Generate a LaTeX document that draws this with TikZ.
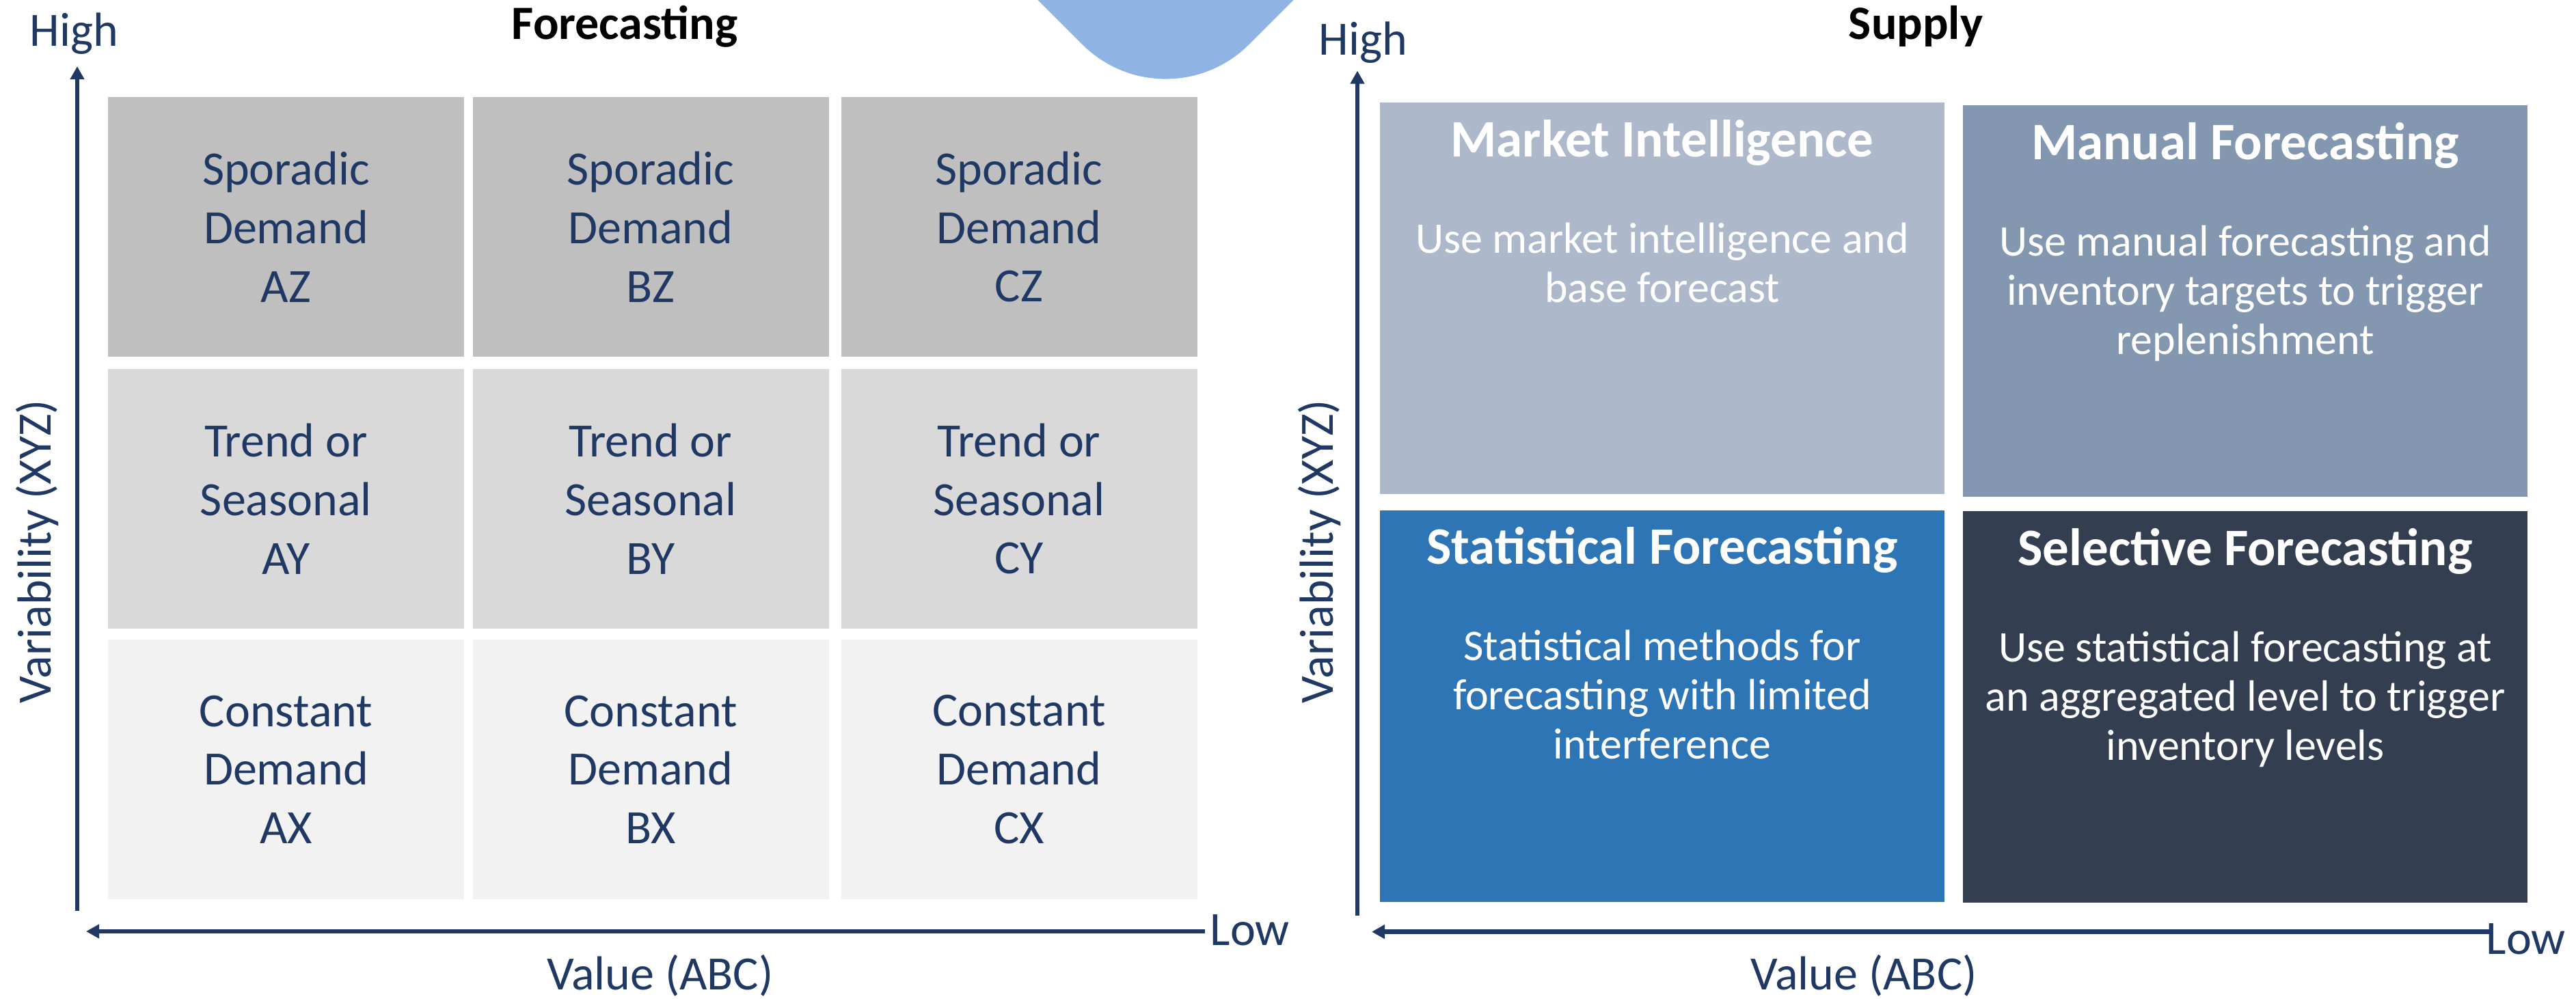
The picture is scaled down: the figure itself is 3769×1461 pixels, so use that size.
\documentclass[tikz,border=0pt]{standalone}
\usepackage{fontspec}
\setmainfont{Carlito}
\usetikzlibrary{arrows.meta,positioning}
\definecolor{navy}{HTML}{1F3864}
\definecolor{rowz}{HTML}{BFBFBF}
\definecolor{rowy}{HTML}{D9D9D9}
\definecolor{rowx}{HTML}{F2F2F2}
\definecolor{mkt}{HTML}{ADB9CA}
\definecolor{man}{HTML}{8497B0}
\definecolor{stat}{HTML}{2E75B6}
\definecolor{sel}{HTML}{333F50}
\definecolor{wedge}{HTML}{8FB4E3}

\begin{document}
\begin{tikzpicture}[x=0.25pt,y=-0.25pt,
  cell/.style={minimum width=130.25pt,minimum height=95pt,outer sep=0pt,text=navy,align=center,font=\fontsize{17.5}{21.43}\selectfont},
  quad/.style={minimum width=206.5pt,minimum height=143.25pt,outer sep=0pt},
  head/.style={text=white,font=\bfseries\fontsize{19.25}{23}\selectfont},
  body/.style={text=white,align=center,font=\fontsize{16}{18}\selectfont},
  lab/.style={text=navy,font=\fontsize{17.5}{21}\selectfont},
  ttl/.style={font=\bfseries\fontsize{17.5}{21}\selectfont},
  axis/.style={navy,line width=1.6pt,-{Triangle[length=4.8pt,width=5pt]}}]
\tikzstyle{every node}+=[inner sep=0pt]
\useasboundingbox (0,0) rectangle (3769,1461);
\fill [wedge] (1518.5,0) -- (1583.5,65) .. controls (1651,132.4) and (1760,132.4) .. (1827.5,65) -- (1892.5,0) -- cycle;
\node (az) [cell,fill=rowz] at (418.5,332) {Sporadic\\Demand\\AZ};
\node (bz) [cell,fill=rowz] at (952,332) {Sporadic\\Demand\\BZ};
\node (cz) [cell,fill=rowz] at (1491,332) {Sporadic\\Demand\\CZ};
\node (ay) [cell,fill=rowy] at (418.5,730) {Trend or\\Seasonal\\AY};
\node (by) [cell,fill=rowy] at (952,730) {Trend or\\Seasonal\\BY};
\node (cy) [cell,fill=rowy] at (1491,730) {Trend or\\Seasonal\\CY};
\node (ax) [cell,fill=rowx] at (418.5,1126) {Constant\\Demand\\AX};
\node (bx) [cell,fill=rowx] at (952,1126) {Constant\\Demand\\BX};
\node (cx) [cell,fill=rowx] at (1491,1126) {Constant\\Demand\\CX};
\node (fhigh) [lab,anchor=base west] at (43,67) {High};
\node (ftitle) [ttl,anchor=base] at (914,57) {Forecasting};
\node (flow) [lab,anchor=base west] at (1770,1383) {Low};
\node (fval) [lab,anchor=base] at (966,1448) {Value (ABC)};
\node (fvar) [lab,anchor=base,rotate=90] at (74,807) {Variability (XYZ)};
\coordinate (fy0) at (113,1333);
\coordinate (fy1) at (113,97);
\coordinate (fx0) at (1763,1363);
\coordinate (fx1) at (126,1363);
\draw [axis] (fy0) -- (fy1);
\draw [axis] (fx0) -- (fx1);
\node (mi) [quad,fill=mkt] at (2432,436.5) {};
\node (mf) [quad,fill=man] at (3285,440.5) {};
\node (sf) [quad,fill=stat] at (2432,1033) {};
\node (lf) [quad,fill=sel] at (3285,1034.5) {};
\node (mih) [head,below=19.75pt of mi.north,anchor=base] {Market Intelligence};
\node (mib) [body,below=73pt of mi.north,anchor=base] {Use market intelligence and\\base forecast};
\node (mfh) [head,below=19.75pt of mf.north,anchor=base] {Manual Forecasting};
\node (mfb) [body,below=91pt of mf.north,anchor=base] {Use manual forecasting and\\inventory targets to trigger\\replenishment};
\node (sfh) [head,below=19.75pt of sf.north,anchor=base] {Statistical Forecasting};
\node (sfb) [body,below=91pt of sf.north,anchor=base] {Statistical methods for\\forecasting with limited\\interference};
\node (lfh) [head,below=19.75pt of lf.north,anchor=base] {Selective Forecasting};
\node (lfb) [body,below=91pt of lf.north,anchor=base] {Use statistical forecasting at\\an aggregated level to trigger\\inventory levels};
\node (shigh) [lab,anchor=base west] at (1929,80) {High};
\node (stitle) [ttl,anchor=base] at (2803,57) {Supply};
\node (slow) [lab,anchor=base west] at (3637,1396) {Low};
\node (sval) [lab,anchor=base] at (2727,1448) {Value (ABC)};
\node (svar) [lab,anchor=base,rotate=90] at (1950,807) {Variability (XYZ)};
\coordinate (sy0) at (1986,1340);
\coordinate (sy1) at (1986,103.5);
\coordinate (sx0) at (3646,1363.6);
\coordinate (sx1) at (2007,1363.6);
\draw [axis] (sy0) -- (sy1);
\draw [axis] (sx0) -- (sx1);
\end{tikzpicture}
\end{document}
